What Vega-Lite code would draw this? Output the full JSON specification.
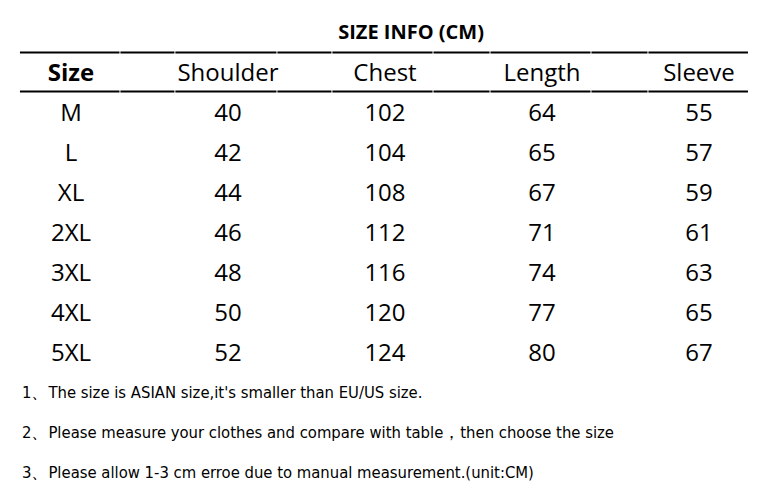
{
  "$schema": "https://vega.github.io/schema/vega-lite/v6.json",
  "description": "Size info table (cm)",
  "width": 772,
  "height": 502,
  "autosize": {"type": "fit", "contains": "padding"},
  "padding": 0,
  "background": "white",
  "config": {"view": {"stroke": null}},
  "datasets": {
    "cells": [
      {"row": 1, "col": 0, "label": "M"}, {"row": 1, "col": 1, "label": "40"}, {"row": 1, "col": 2, "label": "102"}, {"row": 1, "col": 3, "label": "64"}, {"row": 1, "col": 4, "label": "55"},
      {"row": 2, "col": 0, "label": "L"}, {"row": 2, "col": 1, "label": "42"}, {"row": 2, "col": 2, "label": "104"}, {"row": 2, "col": 3, "label": "65"}, {"row": 2, "col": 4, "label": "57"},
      {"row": 3, "col": 0, "label": "XL"}, {"row": 3, "col": 1, "label": "44"}, {"row": 3, "col": 2, "label": "108"}, {"row": 3, "col": 3, "label": "67"}, {"row": 3, "col": 4, "label": "59"},
      {"row": 4, "col": 0, "label": "2XL"}, {"row": 4, "col": 1, "label": "46"}, {"row": 4, "col": 2, "label": "112"}, {"row": 4, "col": 3, "label": "71"}, {"row": 4, "col": 4, "label": "61"},
      {"row": 5, "col": 0, "label": "3XL"}, {"row": 5, "col": 1, "label": "48"}, {"row": 5, "col": 2, "label": "116"}, {"row": 5, "col": 3, "label": "74"}, {"row": 5, "col": 4, "label": "63"},
      {"row": 6, "col": 0, "label": "4XL"}, {"row": 6, "col": 1, "label": "50"}, {"row": 6, "col": 2, "label": "120"}, {"row": 6, "col": 3, "label": "77"}, {"row": 6, "col": 4, "label": "65"},
      {"row": 7, "col": 0, "label": "5XL"}, {"row": 7, "col": 1, "label": "52"}, {"row": 7, "col": 2, "label": "124"}, {"row": 7, "col": 3, "label": "80"}, {"row": 7, "col": 4, "label": "67"}
    ],
    "header": [
      {"row": 0, "col": 1, "label": "Shoulder"},
      {"row": 0, "col": 2, "label": "Chest"},
      {"row": 0, "col": 3, "label": "Length"},
      {"row": 0, "col": 4, "label": "Sleeve"}
    ],
    "notes": [
      {"row": 8, "col": -0.312, "label": "1、The size is ASIAN size,it's smaller than EU/US size."},
      {"row": 9, "col": -0.312, "label": "2、Please measure your clothes and compare with table，then choose the size"},
      {"row": 10, "col": -0.312, "label": "3、Please allow 1-3 cm erroe due to manual measurement.(unit:CM)"}
    ],
    "rules": [
      {"y": -0.49, "x": -0.325, "x2": 0.309}, {"y": -0.49, "x": 0.315, "x2": 0.659}, {"y": -0.49, "x": 0.665, "x2": 1.309},
      {"y": -0.49, "x": 1.315, "x2": 1.659}, {"y": -0.49, "x": 1.665, "x2": 2.303}, {"y": -0.49, "x": 2.309, "x2": 2.666},
      {"y": -0.49, "x": 2.672, "x2": 3.309}, {"y": -0.49, "x": 3.315, "x2": 3.672}, {"y": -0.49, "x": 3.678, "x2": 4.312},
      {"y": 0.49, "x": -0.325, "x2": 0.309}, {"y": 0.49, "x": 0.315, "x2": 0.659}, {"y": 0.49, "x": 0.665, "x2": 1.309},
      {"y": 0.49, "x": 1.315, "x2": 1.659}, {"y": 0.49, "x": 1.665, "x2": 2.303}, {"y": 0.49, "x": 2.309, "x2": 2.666},
      {"y": 0.49, "x": 2.672, "x2": 3.309}, {"y": 0.49, "x": 3.315, "x2": 3.672}, {"y": 0.49, "x": 3.678, "x2": 4.312}
    ]
  },
  "layer": [
    {
      "data": {"name": "rules"},
      "mark": {"type": "rule", "color": "black", "strokeWidth": 2},
      "encoding": {
        "x": {"field": "x", "type": "quantitative", "scale": {"domain": [-0.452, 4.465], "nice": false, "zero": false}, "axis": null},
        "x2": {"field": "x2"},
        "y": {"field": "y", "type": "quantitative", "scale": {"domain": [-1.8, 10.75], "nice": false, "zero": false, "reverse": true}, "axis": null}
      }
    },
    {
      "data": {"values": [{"row": -1, "col": 2.166, "label": "SIZE INFO (CM)"}]},
      "mark": {"type": "text", "font": "Open Sans", "fontSize": 20, "fontWeight": "bold", "color": "black", "baseline": "middle", "dy": 1},
      "encoding": {
        "x": {"field": "col", "type": "quantitative"},
        "y": {"field": "row", "type": "quantitative"},
        "text": {"field": "label"}
      }
    },
    {
      "data": {"values": [{"row": 0, "col": 0, "label": "Size"}]},
      "mark": {"type": "text", "font": "Open Sans", "fontSize": 24, "fontWeight": "bold", "color": "black", "baseline": "middle", "dy": 2},
      "encoding": {
        "x": {"field": "col", "type": "quantitative"},
        "y": {"field": "row", "type": "quantitative"},
        "text": {"field": "label"}
      }
    },
    {
      "data": {"name": "header"},
      "mark": {"type": "text", "font": "Open Sans", "fontSize": 24, "color": "black", "baseline": "middle", "dy": 2},
      "encoding": {
        "x": {"field": "col", "type": "quantitative"},
        "y": {"field": "row", "type": "quantitative"},
        "text": {"field": "label"}
      }
    },
    {
      "data": {"name": "cells"},
      "mark": {"type": "text", "font": "Open Sans", "fontSize": 24, "color": "black", "baseline": "middle", "dy": 2},
      "encoding": {
        "x": {"field": "col", "type": "quantitative"},
        "y": {"field": "row", "type": "quantitative"},
        "text": {"field": "label"}
      }
    },
    {
      "data": {"name": "notes"},
      "mark": {"type": "text", "font": "Liberation Sans Narrow, DejaVu Sans Condensed, sans-serif", "fontSize": 16.5, "color": "black", "align": "left", "baseline": "middle", "dy": 1},
      "encoding": {
        "x": {"field": "col", "type": "quantitative"},
        "y": {"field": "row", "type": "quantitative"},
        "text": {"field": "label"}
      }
    }
  ]
}
